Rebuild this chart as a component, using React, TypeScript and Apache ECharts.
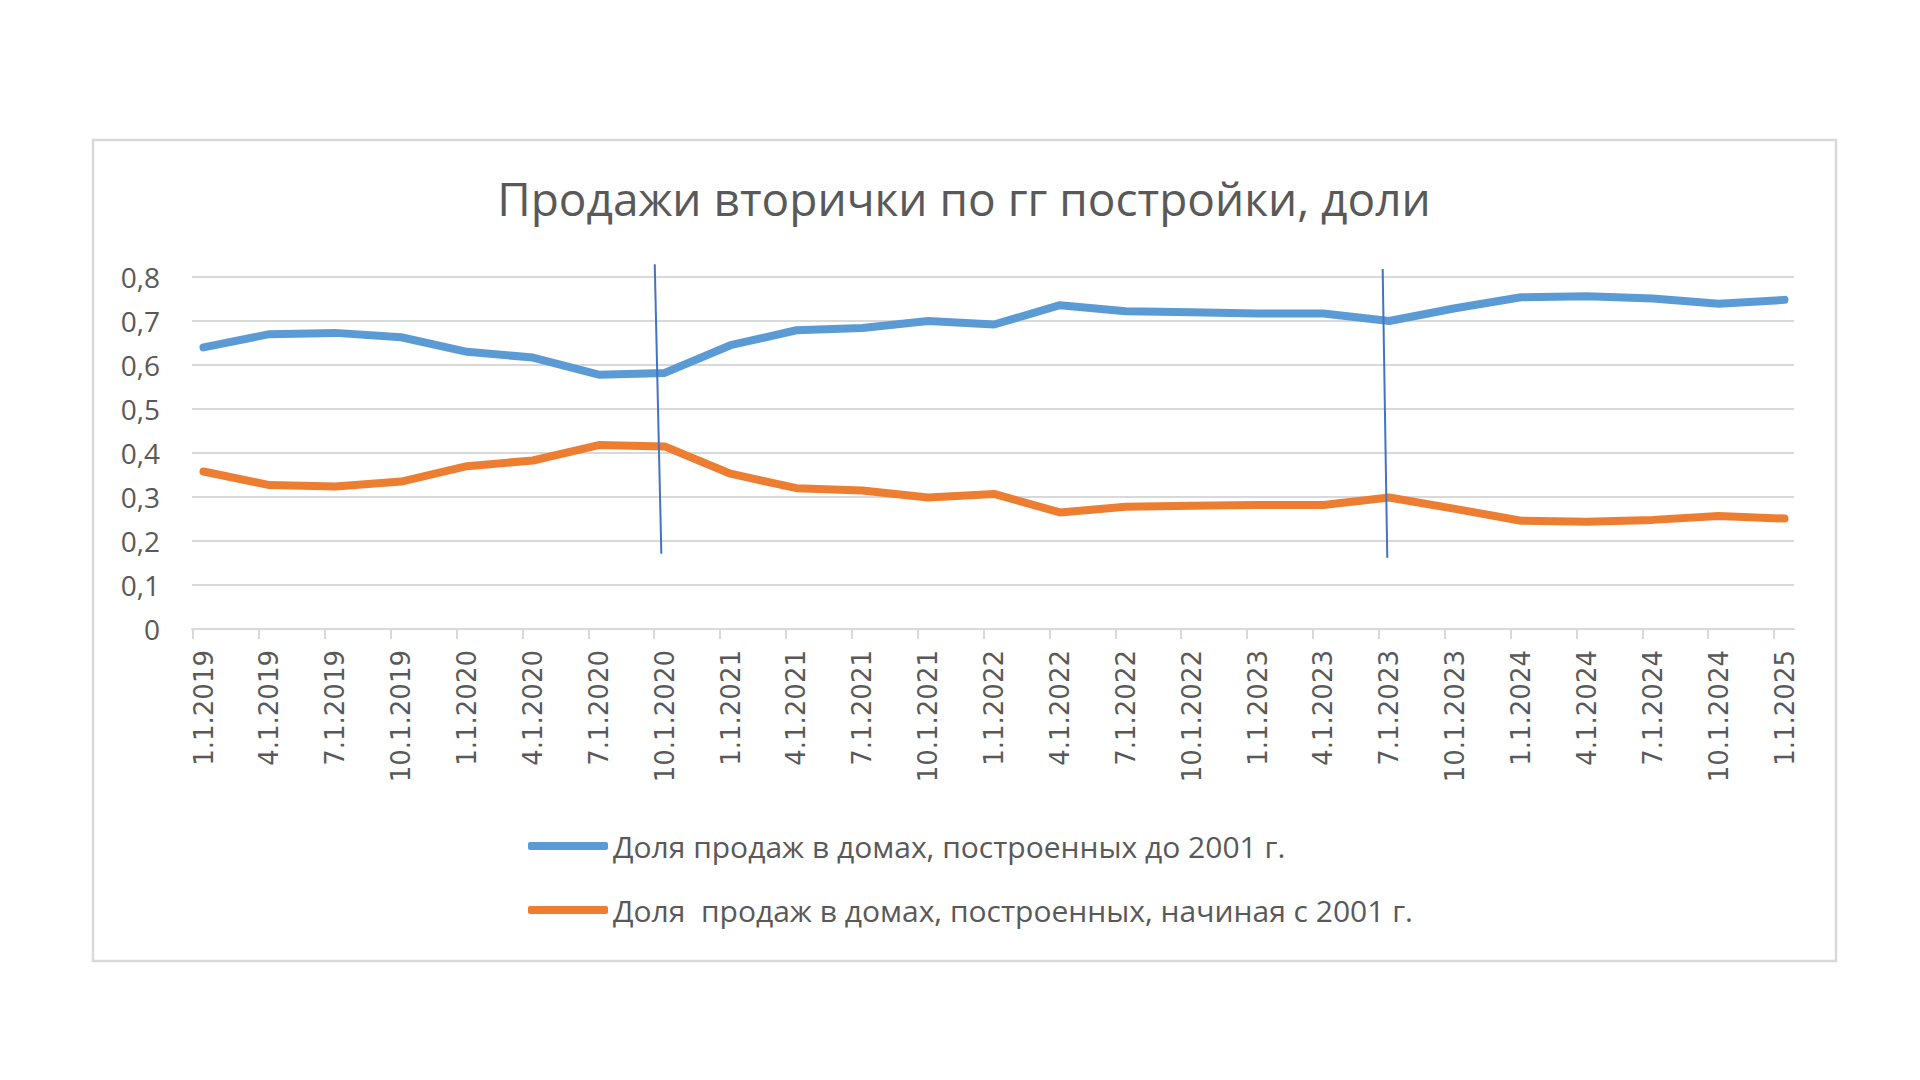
import React, { useEffect, useRef } from 'react';
import * as echarts from 'echarts';

const categories = [
  '1.1.2019', '4.1.2019', '7.1.2019', '10.1.2019',
  '1.1.2020', '4.1.2020', '7.1.2020', '10.1.2020',
  '1.1.2021', '4.1.2021', '7.1.2021', '10.1.2021',
  '1.1.2022', '4.1.2022', '7.1.2022', '10.1.2022',
  '1.1.2023', '4.1.2023', '7.1.2023', '10.1.2023',
  '1.1.2024', '4.1.2024', '7.1.2024', '10.1.2024',
  '1.1.2025',
];

const seriesNames = [
  'Доля продаж в домах, построенных до 2001 г.',
  'Доля  продаж в домах, построенных, начиная с 2001 г.',
];

const before2001 = [
  0.640, 0.670, 0.673, 0.663, 0.630, 0.617, 0.578, 0.582,
  0.645, 0.679, 0.684, 0.700, 0.692, 0.736, 0.722, 0.720,
  0.717, 0.717, 0.700, 0.729, 0.754, 0.756, 0.751, 0.739,
  0.748,
];

const since2001 = [
  0.358, 0.327, 0.324, 0.335, 0.370, 0.383, 0.418, 0.415,
  0.353, 0.320, 0.315, 0.299, 0.307, 0.265, 0.278, 0.280,
  0.282, 0.282, 0.299, 0.273, 0.246, 0.244, 0.248, 0.257,
  0.251,
];

// hand-drawn annotation lines: [categoryIndex, value] pairs
const annotationLine1 = [[6.85, 0.829], [6.95, 0.171]];
const annotationLine2 = [[17.9, 0.818], [17.97, 0.162]];

const yMin = 0;
const yMax = 0.8;
const yStep = 0.1;

const GRAY = '#595959';
const GRID_COLOR = '#d9d9d9';

export default function App() {
  const ref = useRef<HTMLDivElement>(null);

  useEffect(() => {
    if (!ref.current) return;
    const chart = echarts.init(ref.current, undefined, { renderer: 'svg' });

    const lastIndex = categories.length - 1;

    const option: any = {
      animation: false,
      backgroundColor: '#ffffff',
      title: {
        text: 'Продажи вторички по гг постройки, доли',
        left: 959,
        top: 170,
        textAlign: 'center',
        textStyle: {
          fontFamily: 'Open Sans',
          fontSize: 46,
          fontWeight: 'normal',
          color: GRAY,
        },
      },
      legend: {
        orient: 'vertical',
        left: 523,
        top: 826,
        itemWidth: 80,
        itemHeight: 8,
        itemGap: 34,
        icon: 'roundRect',
        selectedMode: false,
        data: seriesNames,
        textStyle: {
          fontFamily: 'Open Sans',
          fontSize: 30,
          color: GRAY,
        },
      },
      graphic: [
        {
          type: 'rect',
          silent: true,
          z: -10,
          shape: { x: 93, y: 140, width: 1743, height: 821 },
          style: { fill: 'none', stroke: GRID_COLOR, lineWidth: 2.5 },
        },
      ],
      grid: [
        { left: 192, top: 277, width: 1602, height: 352, containLabel: false },
        { left: 193, top: 277, width: 1581, height: 352, containLabel: false },
        { left: 203.5, top: 277, width: 1581, height: 352, containLabel: false },
      ],
      xAxis: [
        {
          gridIndex: 0,
          type: 'value',
          min: 0,
          max: 1,
          axisLine: { show: true, lineStyle: { color: GRID_COLOR, width: 2 } },
          axisTick: { show: false },
          axisLabel: { show: false },
          splitLine: { show: false },
        },
        {
          gridIndex: 1,
          type: 'value',
          min: 0,
          max: lastIndex,
          interval: 1,
          axisLine: { show: false },
          axisTick: { show: true, length: 10, lineStyle: { color: GRID_COLOR, width: 2 } },
          axisLabel: { show: false },
          splitLine: { show: false },
        },
        {
          gridIndex: 2,
          type: 'value',
          min: 0,
          max: lastIndex,
          interval: 1,
          axisLine: { show: false },
          axisTick: { show: false },
          splitLine: { show: false },
          axisLabel: {
            rotate: 90,
            margin: 21,
            fontFamily: 'DejaVu Sans',
            fontSize: 26,
            color: GRAY,
            showMinLabel: true,
            showMaxLabel: true,
            formatter: (v: number) => categories[Math.round(v)] ?? '',
          },
        },
      ],
      yAxis: [
        {
          gridIndex: 0,
          type: 'value',
          min: yMin,
          max: yMax,
          interval: yStep,
          axisLine: { show: false },
          axisTick: { show: false },
          splitLine: { show: true, lineStyle: { color: GRID_COLOR, width: 2 } },
          axisLabel: {
            margin: 32,
            fontFamily: 'Open Sans',
            fontSize: 28,
            color: GRAY,
            formatter: (v: number) =>
              Math.abs(v) < 1e-9 ? '0' : v.toFixed(1).replace('.', ','),
          },
        },
        { gridIndex: 1, type: 'value', min: yMin, max: yMax, show: false },
        { gridIndex: 2, type: 'value', min: yMin, max: yMax, show: false },
      ],
      series: [
        {
          name: seriesNames[0],
          type: 'line',
          xAxisIndex: 2,
          yAxisIndex: 2,
          color: '#5b9bd5',
          symbol: 'none',
          showSymbol: false,
          lineStyle: { width: 8, color: '#5b9bd5', cap: 'round', join: 'round' },
          data: before2001.map((v, i) => [i, v]),
          z: 3,
        },
        {
          name: seriesNames[1],
          type: 'line',
          xAxisIndex: 2,
          yAxisIndex: 2,
          color: '#ed7d31',
          symbol: 'none',
          showSymbol: false,
          lineStyle: { width: 8, color: '#ed7d31', cap: 'round', join: 'round' },
          data: since2001.map((v, i) => [i, v]),
          z: 3,
        },
        {
          name: 'annotation-1',
          type: 'line',
          xAxisIndex: 2,
          yAxisIndex: 2,
          clip: false,
          silent: true,
          symbol: 'none',
          showSymbol: false,
          lineStyle: { width: 2, color: '#4472c4' },
          data: annotationLine1,
          z: 5,
        },
        {
          name: 'annotation-2',
          type: 'line',
          xAxisIndex: 2,
          yAxisIndex: 2,
          clip: false,
          silent: true,
          symbol: 'none',
          showSymbol: false,
          lineStyle: { width: 2, color: '#4472c4' },
          data: annotationLine2,
          z: 5,
        },
      ],
    };

    chart.setOption(option);
    return () => {
      chart.dispose();
    };
  }, []);

  return (
    <div
      ref={ref}
      style={{
        position: 'fixed',
        left: 0,
        top: 0,
        width: 1920,
        height: 1080,
        background: '#ffffff',
      }}
    />
  );
}
